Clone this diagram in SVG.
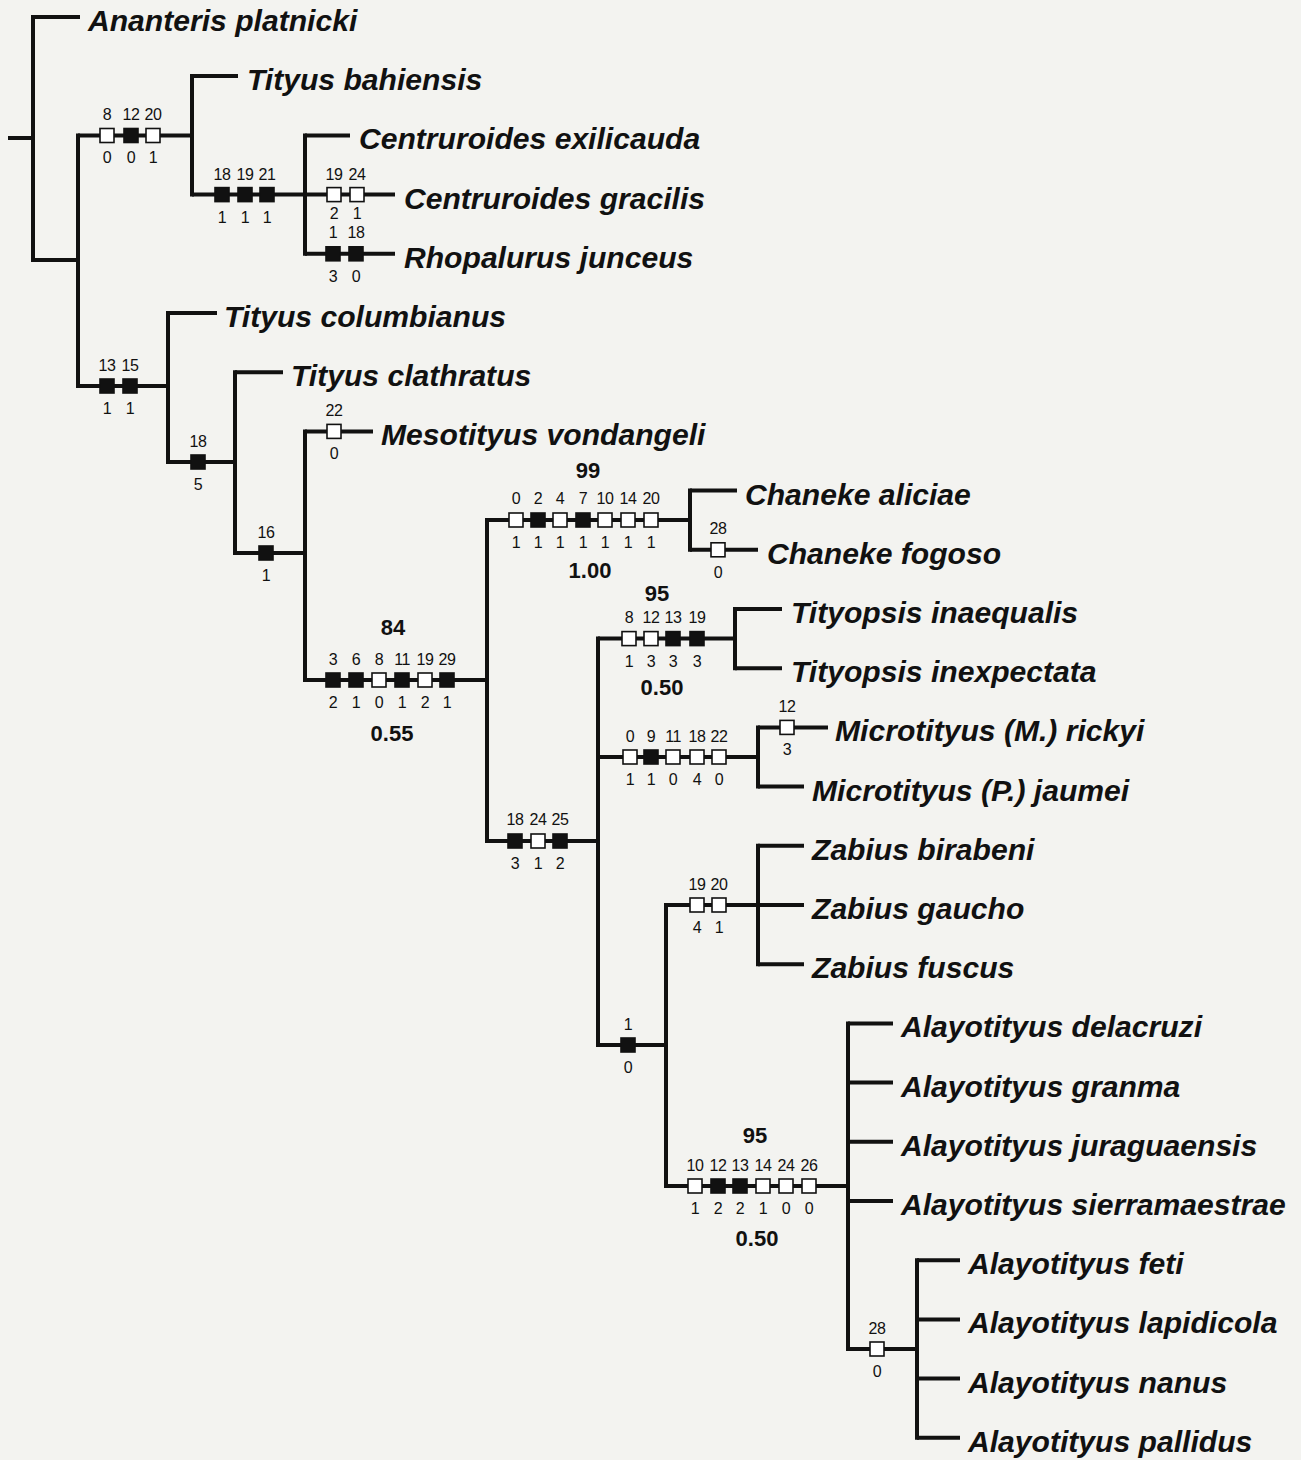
<svg xmlns="http://www.w3.org/2000/svg" width="1301" height="1460" viewBox="0 0 1301 1460">
<style>
.br{fill:none;stroke:#111;stroke-width:4;stroke-linecap:butt}
.v{fill:none;stroke:#111;stroke-width:4;stroke-linecap:square}
.tx{font-family:"Liberation Sans",Arial,sans-serif;font-style:italic;font-weight:bold;font-size:30.1px;fill:#111}
.n{font-family:"Liberation Sans",Arial,sans-serif;font-size:16px;fill:#111;text-anchor:middle;letter-spacing:-0.5px}
.s{font-family:"Liberation Sans",Arial,sans-serif;font-weight:bold;font-size:22px;fill:#111;text-anchor:middle}
.w{fill:#fff;stroke:#111;stroke-width:1.6}
.b{fill:#111;stroke:#111;stroke-width:1.6}
</style>
<rect x="0" y="0" width="1301" height="1460" fill="#f3f3f0"/>
<g id="connectors">
<path class="v" d="M33,17V260 M78,135.5V386 M192,76V194.6 M305,135.4V253.8 M168,313V462 M235,372.2V553 M305,431.4V680 M487,520V841 M690,490.6V549.8 M598,638.6V1045 M735,609V668.2 M758,727.4V786.6 M666,905V1186 M758,845.8V964.2 M848,1023.4V1349 M917,1260.2V1437.8"/>
<path class="br" d="M8,138H33 M33,17H80 M33,260H78 M78,135.5H192 M192,76H238 M192,194.6H395 M305,135.4H350 M305,253.8H395 M78,386H168 M168,313H217 M168,462H235 M235,372.2H283 M235,553H305 M305,431.4H373 M305,680H487 M487,520H690 M690,490.6H737 M690,549.8H758 M487,841H598 M598,638.6H735 M735,609H782 M735,668.2H782 M598,757H758 M758,727.4H828 M758,786.6H804 M598,1045H666 M666,905H804 M758,845.8H804 M758,964.2H804 M666,1186H848 M848,1023.4H893 M848,1082.6H893 M848,1141.8H893 M848,1201H893 M848,1349H917 M917,1260.2H960 M917,1319.4H960 M917,1378.6H960 M917,1437.8H960"/>
</g>
<g id="taxa">
<g id="t-ananteris"><text class="tx" x="88" y="31">Ananteris platnicki</text></g>
<g id="t-bahiensis"><text class="tx" x="247" y="90">Tityus bahiensis</text></g>
<g id="t-exilicauda"><text class="tx" x="359" y="149">Centruroides exilicauda</text></g>
<g id="t-gracilis"><text class="tx" x="404" y="209">Centruroides gracilis</text></g>
<g id="t-junceus"><text class="tx" x="404" y="268">Rhopalurus junceus</text></g>
<g id="t-columbianus"><text class="tx" x="224" y="327">Tityus columbianus</text></g>
<g id="t-clathratus"><text class="tx" x="291" y="386">Tityus clathratus</text></g>
<g id="t-mesotityus"><text class="tx" x="381" y="445">Mesotityus vondangeli</text></g>
<g id="t-aliciae"><text class="tx" x="745" y="505">Chaneke aliciae</text></g>
<g id="t-fogoso"><text class="tx" x="767" y="564">Chaneke fogoso</text></g>
<g id="t-inaequalis"><text class="tx" x="791" y="623">Tityopsis inaequalis</text></g>
<g id="t-inexpectata"><text class="tx" x="791" y="682">Tityopsis inexpectata</text></g>
<g id="t-rickyi"><text class="tx" x="835" y="741">Microtityus (M.) rickyi</text></g>
<g id="t-jaumei"><text class="tx" x="812" y="801">Microtityus (P.) jaumei</text></g>
<g id="t-birabeni"><text class="tx" x="812" y="860">Zabius birabeni</text></g>
<g id="t-gaucho"><text class="tx" x="812" y="919">Zabius gaucho</text></g>
<g id="t-fuscus"><text class="tx" x="812" y="978">Zabius fuscus</text></g>
<g id="t-delacruzi"><text class="tx" x="901" y="1037">Alayotityus delacruzi</text></g>
<g id="t-granma"><text class="tx" x="901" y="1097">Alayotityus granma</text></g>
<g id="t-juraguaensis"><text class="tx" x="901" y="1156">Alayotityus juraguaensis</text></g>
<g id="t-sierramaestrae"><text class="tx" x="901" y="1215">Alayotityus sierramaestrae</text></g>
<g id="t-feti"><text class="tx" x="968" y="1274">Alayotityus feti</text></g>
<g id="t-lapidicola"><text class="tx" x="968" y="1333">Alayotityus lapidicola</text></g>
<g id="t-nanus"><text class="tx" x="968" y="1393">Alayotityus nanus</text></g>
<g id="t-pallidus"><text class="tx" x="968" y="1452">Alayotityus pallidus</text></g>
</g>
<g id="characters">
<g id="n1">
<rect class="w" x="100" y="128.5" width="14" height="14"/><rect class="b" x="124" y="128.5" width="14" height="14"/><rect class="w" x="146" y="128.5" width="14" height="14"/>
<text class="n" x="107" y="120">8</text><text class="n" x="131" y="120">12</text><text class="n" x="153" y="120">20</text>
<text class="n" x="107" y="163">0</text><text class="n" x="131" y="163">0</text><text class="n" x="153" y="163">1</text>
</g>
<g id="n2">
<rect class="b" x="215" y="187.6" width="14" height="14"/><rect class="b" x="238" y="187.6" width="14" height="14"/><rect class="b" x="260" y="187.6" width="14" height="14"/>
<text class="n" x="222" y="180">18</text><text class="n" x="245" y="180">19</text><text class="n" x="267" y="180">21</text>
<text class="n" x="222" y="223">1</text><text class="n" x="245" y="223">1</text><text class="n" x="267" y="223">1</text>
</g>
<g id="n3">
<rect class="w" x="327" y="187.6" width="14" height="14"/><rect class="w" x="350" y="187.6" width="14" height="14"/>
<text class="n" x="334" y="180">19</text><text class="n" x="357" y="180">24</text>
<text class="n" x="334" y="219">2</text><text class="n" x="357" y="219">1</text>
</g>
<g id="n4">
<rect class="b" x="326" y="246.8" width="14" height="14"/><rect class="b" x="349" y="246.8" width="14" height="14"/>
<text class="n" x="333" y="238">1</text><text class="n" x="356" y="238">18</text>
<text class="n" x="333" y="282">3</text><text class="n" x="356" y="282">0</text>
</g>
<g id="n5">
<rect class="b" x="100" y="379" width="14" height="14"/><rect class="b" x="123" y="379" width="14" height="14"/>
<text class="n" x="107" y="371">13</text><text class="n" x="130" y="371">15</text>
<text class="n" x="107" y="414">1</text><text class="n" x="130" y="414">1</text>
</g>
<g id="n6">
<rect class="b" x="191" y="455" width="14" height="14"/>
<text class="n" x="198" y="447">18</text><text class="n" x="198" y="490">5</text>
</g>
<g id="n7">
<rect class="b" x="259" y="546" width="14" height="14"/>
<text class="n" x="266" y="538">16</text><text class="n" x="266" y="581">1</text>
</g>
<g id="n8">
<rect class="w" x="327" y="424.4" width="14" height="14"/>
<text class="n" x="334" y="416">22</text><text class="n" x="334" y="459">0</text>
</g>
<g id="n9">
<rect class="b" x="326" y="673" width="14" height="14"/><rect class="b" x="349" y="673" width="14" height="14"/><rect class="w" x="372" y="673" width="14" height="14"/><rect class="b" x="395" y="673" width="14" height="14"/><rect class="w" x="418" y="673" width="14" height="14"/><rect class="b" x="440" y="673" width="14" height="14"/>
<text class="n" x="333" y="665">3</text><text class="n" x="356" y="665">6</text><text class="n" x="379" y="665">8</text><text class="n" x="402" y="665">11</text><text class="n" x="425" y="665">19</text><text class="n" x="447" y="665">29</text>
<text class="n" x="333" y="708">2</text><text class="n" x="356" y="708">1</text><text class="n" x="379" y="708">0</text><text class="n" x="402" y="708">1</text><text class="n" x="425" y="708">2</text><text class="n" x="447" y="708">1</text>
<text class="s" x="393" y="635">84</text><text class="s" x="392" y="741">0.55</text>
</g>
<g id="n10">
<rect class="w" x="509" y="513" width="14" height="14"/><rect class="b" x="531" y="513" width="14" height="14"/><rect class="w" x="553" y="513" width="14" height="14"/><rect class="b" x="576" y="513" width="14" height="14"/><rect class="w" x="598" y="513" width="14" height="14"/><rect class="w" x="621" y="513" width="14" height="14"/><rect class="w" x="644" y="513" width="14" height="14"/>
<text class="n" x="516" y="504">0</text><text class="n" x="538" y="504">2</text><text class="n" x="560" y="504">4</text><text class="n" x="583" y="504">7</text><text class="n" x="605" y="504">10</text><text class="n" x="628" y="504">14</text><text class="n" x="651" y="504">20</text>
<text class="n" x="516" y="548">1</text><text class="n" x="538" y="548">1</text><text class="n" x="560" y="548">1</text><text class="n" x="583" y="548">1</text><text class="n" x="605" y="548">1</text><text class="n" x="628" y="548">1</text><text class="n" x="651" y="548">1</text>
<text class="s" x="588" y="478">99</text><text class="s" x="590" y="578">1.00</text>
</g>
<g id="n11">
<rect class="w" x="711" y="542.8" width="14" height="14"/>
<text class="n" x="718" y="534">28</text><text class="n" x="718" y="578">0</text>
</g>
<g id="n12">
<rect class="b" x="508" y="834" width="14" height="14"/><rect class="w" x="531" y="834" width="14" height="14"/><rect class="b" x="553" y="834" width="14" height="14"/>
<text class="n" x="515" y="825">18</text><text class="n" x="538" y="825">24</text><text class="n" x="560" y="825">25</text>
<text class="n" x="515" y="869">3</text><text class="n" x="538" y="869">1</text><text class="n" x="560" y="869">2</text>
</g>
<g id="n13">
<rect class="w" x="622" y="631.6" width="14" height="14"/><rect class="w" x="644" y="631.6" width="14" height="14"/><rect class="b" x="666" y="631.6" width="14" height="14"/><rect class="b" x="690" y="631.6" width="14" height="14"/>
<text class="n" x="629" y="623">8</text><text class="n" x="651" y="623">12</text><text class="n" x="673" y="623">13</text><text class="n" x="697" y="623">19</text>
<text class="n" x="629" y="667">1</text><text class="n" x="651" y="667">3</text><text class="n" x="673" y="667">3</text><text class="n" x="697" y="667">3</text>
<text class="s" x="657" y="601">95</text><text class="s" x="662" y="695">0.50</text>
</g>
<g id="n14">
<rect class="w" x="623" y="750" width="14" height="14"/><rect class="b" x="644" y="750" width="14" height="14"/><rect class="w" x="666" y="750" width="14" height="14"/><rect class="w" x="690" y="750" width="14" height="14"/><rect class="w" x="712" y="750" width="14" height="14"/>
<text class="n" x="630" y="742">0</text><text class="n" x="651" y="742">9</text><text class="n" x="673" y="742">11</text><text class="n" x="697" y="742">18</text><text class="n" x="719" y="742">22</text>
<text class="n" x="630" y="785">1</text><text class="n" x="651" y="785">1</text><text class="n" x="673" y="785">0</text><text class="n" x="697" y="785">4</text><text class="n" x="719" y="785">0</text>
</g>
<g id="n15">
<rect class="w" x="780" y="720.4" width="14" height="14"/>
<text class="n" x="787" y="712">12</text><text class="n" x="787" y="755">3</text>
</g>
<g id="n16">
<rect class="b" x="621" y="1038" width="14" height="14"/>
<text class="n" x="628" y="1030">1</text><text class="n" x="628" y="1073">0</text>
</g>
<g id="n17">
<rect class="w" x="690" y="898" width="14" height="14"/><rect class="w" x="712" y="898" width="14" height="14"/>
<text class="n" x="697" y="890">19</text><text class="n" x="719" y="890">20</text>
<text class="n" x="697" y="933">4</text><text class="n" x="719" y="933">1</text>
</g>
<g id="n18">
<rect class="w" x="688" y="1179" width="14" height="14"/><rect class="b" x="711" y="1179" width="14" height="14"/><rect class="b" x="733" y="1179" width="14" height="14"/><rect class="w" x="756" y="1179" width="14" height="14"/><rect class="w" x="779" y="1179" width="14" height="14"/><rect class="w" x="802" y="1179" width="14" height="14"/>
<text class="n" x="695" y="1171">10</text><text class="n" x="718" y="1171">12</text><text class="n" x="740" y="1171">13</text><text class="n" x="763" y="1171">14</text><text class="n" x="786" y="1171">24</text><text class="n" x="809" y="1171">26</text>
<text class="n" x="695" y="1214">1</text><text class="n" x="718" y="1214">2</text><text class="n" x="740" y="1214">2</text><text class="n" x="763" y="1214">1</text><text class="n" x="786" y="1214">0</text><text class="n" x="809" y="1214">0</text>
<text class="s" x="755" y="1143">95</text><text class="s" x="757" y="1246">0.50</text>
</g>
<g id="n19">
<rect class="w" x="870" y="1342" width="14" height="14"/>
<text class="n" x="877" y="1334">28</text><text class="n" x="877" y="1377">0</text>
</g>
</g>
</svg>
